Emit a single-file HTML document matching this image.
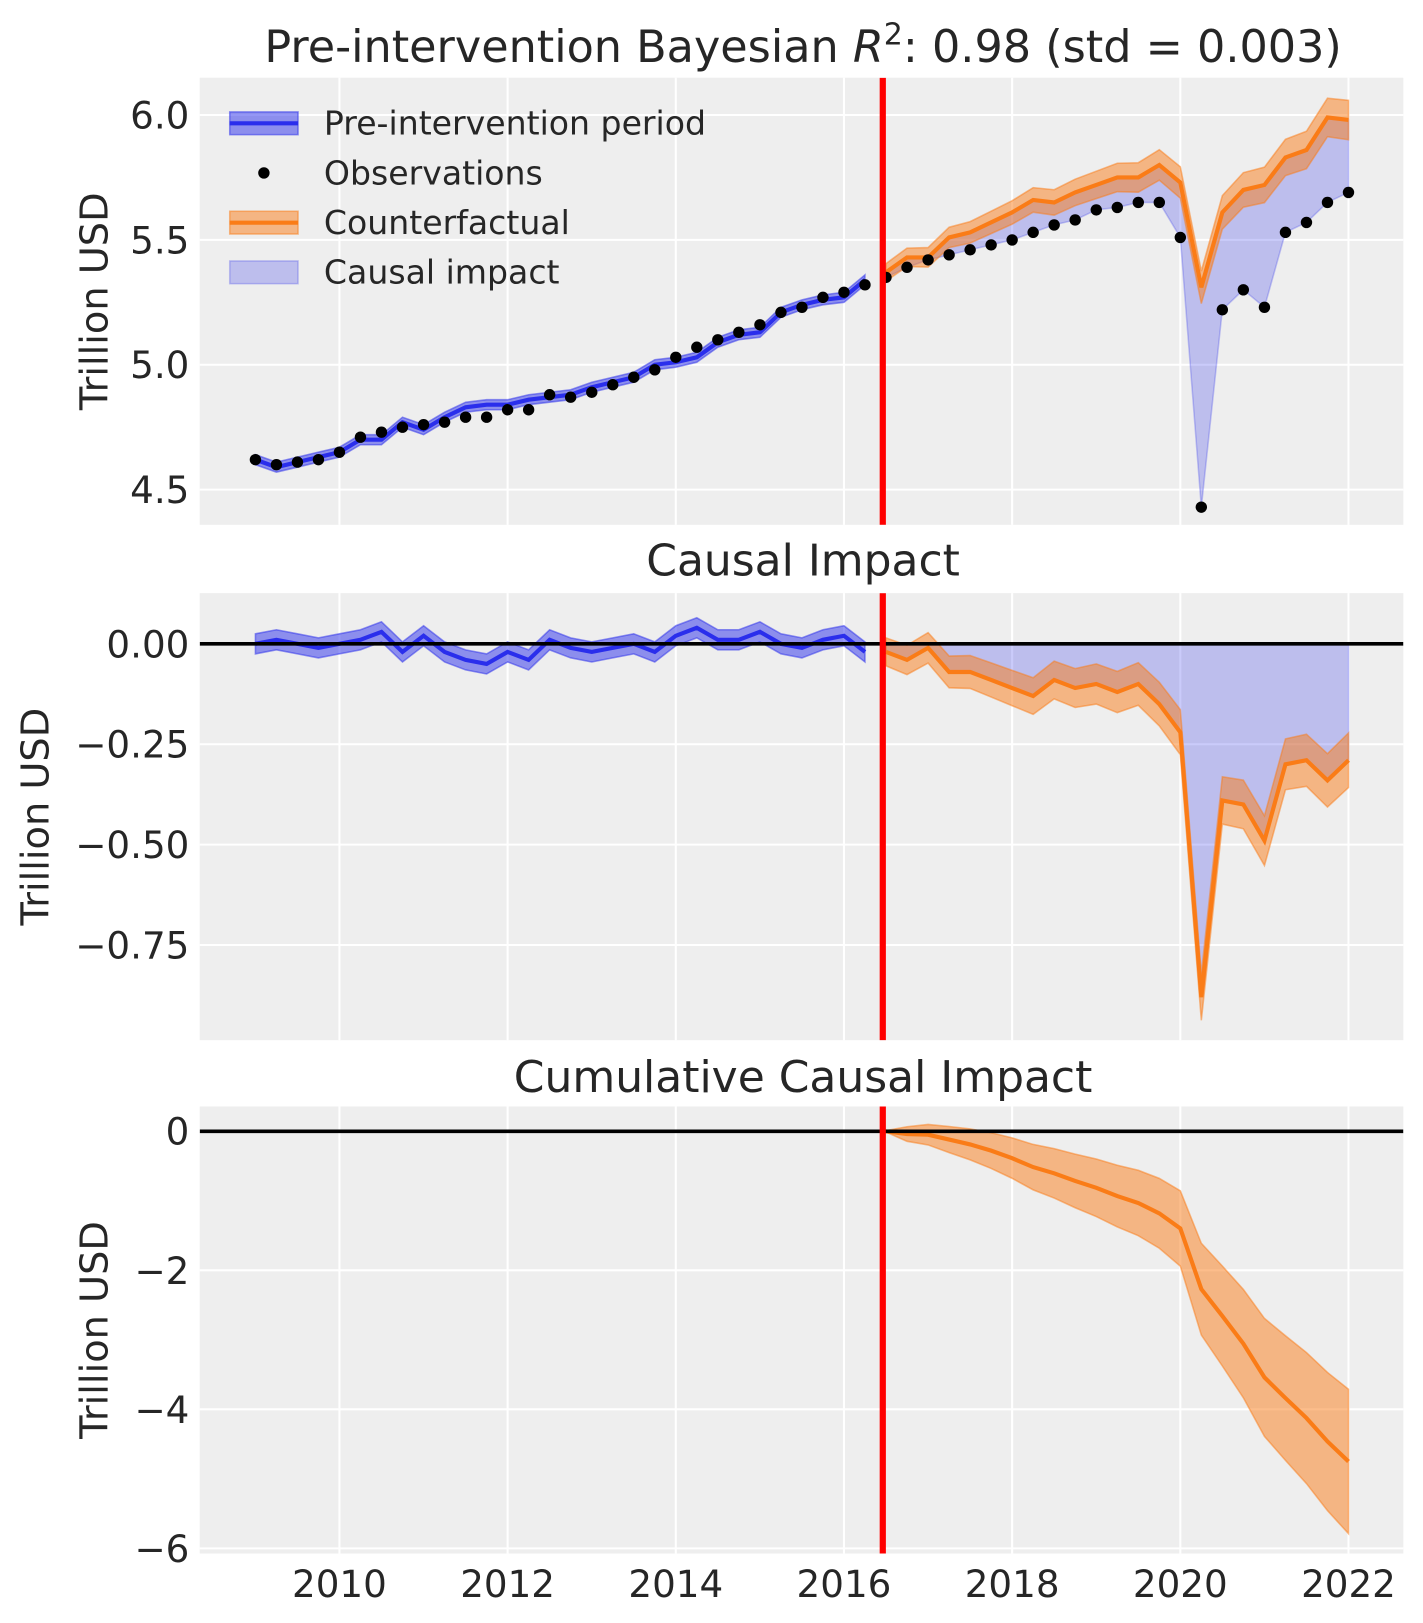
<!DOCTYPE html>
<html><head><meta charset="utf-8"><style>
html,body{margin:0;padding:0;background:#fff;}
svg{display:block;}
text{font-family:"DejaVu Sans","Liberation Sans",sans-serif;fill:#262626;}
</style></head><body>
<svg id="s" xmlns="http://www.w3.org/2000/svg" width="1423" height="1623" viewBox="0 0 1375 1568"></svg>
<script>
const S=document.getElementById('s');
let h='';
const X0=193,X1=1356;
const xd=t=>328+(t-2010)*81.25;
const obs=[4.62,4.60,4.61,4.62,4.65,4.71,4.73,4.75,4.76,4.77,4.79,4.79,4.82,4.82,4.88,4.87,4.89,4.92,4.95,4.98,5.03,5.07,5.10,5.13,5.16,5.21,5.23,5.27,5.29,5.32,5.35,5.39,5.42,5.44,5.46,5.48,5.50,5.53,5.56,5.58,5.62,5.63,5.65,5.65,5.51,4.43,5.22,5.30,5.23,5.53,5.57,5.65,5.69];
const imp=[0.00,0.01,0.00,-0.01,0.00,0.01,0.03,-0.02,0.02,-0.02,-0.04,-0.05,-0.02,-0.04,0.01,-0.01,-0.02,-0.01,0.00,-0.02,0.02,0.04,0.01,0.01,0.03,0.00,-0.01,0.01,0.02,-0.02,
-0.02,-0.04,-0.01,-0.07,-0.07,-0.09,-0.11,-0.13,-0.09,-0.11,-0.10,-0.12,-0.10,-0.15,-0.22,-0.88,-0.39,-0.40,-0.49,-0.30,-0.29,-0.34,-0.29];
const N=obs.length, P=30;
const tx=i=>xd(2009+i*0.25);
const fit=obs.map((o,i)=>o-imp[i]);
function line(xs,ys){return xs.map((x,i)=>(i?'L':'M')+x.toFixed(1)+','+ys[i].toFixed(1)).join('');}
function band(idx,lo,hi,fy){const a=idx.map(i=>[tx(i),fy(hi(i))]),b=idx.map(i=>[tx(i),fy(lo(i))]).reverse();return 'M'+a.concat(b).map(p=>p[0].toFixed(1)+','+p[1].toFixed(1)).join('L')+'Z';}
const BL='#2a2eec',OR='#fa7c17';
const LW=4;
const pre=[...Array(P).keys()], post=[...Array(N-P).keys()].map(i=>i+P);
function axes(y0,y1,ticks,fy,labs){
  h+=`<rect x="${X0}" y="${y0}" width="${X1-X0}" height="${y1-y0}" fill="#eeeeee"/>`;
  for(let t=2010;t<=2022;t+=2)h+=`<line x1="${xd(t)}" x2="${xd(t)}" y1="${y0}" y2="${y1}" stroke="#fff" stroke-width="2"/>`;
  ticks.forEach((v,k)=>{const y=fy(v);h+=`<line x1="${X0}" x2="${X1}" y1="${y}" y2="${y}" stroke="#fff" stroke-width="2"/><text x="183" y="${y+13}" font-size="36" text-anchor="end">${labs[k]}</text>`;});
}
function clip(id,y0,y1){h+=`<clipPath id="${id}"><rect x="${X0}" y="${y0}" width="${X1-X0}" height="${y1-y0}"/></clipPath>`;}
// ---------- top
const fy1=v=>111+(6.0-v)*241.33;
axes(75,507,[6.0,5.5,5.0,4.5],fy1,['6.0','5.5','5.0','4.5']);
clip('c1',75,507);
h+='<g clip-path="url(#c1)">';
const w1=i=>0.02+0.002*Math.max(0,i-P)+(i>=P?0.015:0);
h+=`<path d="${band(pre,i=>fit[i]-w1(i),i=>fit[i]+w1(i),fy1)}" fill="${BL}" fill-opacity="0.5" stroke="${BL}" stroke-opacity="0.5" stroke-width="1.5"/>`;
h+=`<path d="${line(pre.map(tx),pre.map(i=>fy1(fit[i])))}" fill="none" stroke="${BL}" stroke-width="${LW}"/>`;
h+=`<path d="${band(post,i=>obs[i],i=>fit[i],fy1)}" fill="${BL}" fill-opacity="0.25" stroke="${BL}" stroke-opacity="0.25" stroke-width="1.5"/>`;
h+=`<path d="${band(post,i=>fit[i]-w1(i),i=>fit[i]+w1(i),fy1)}" fill="${OR}" fill-opacity="0.5" stroke="${OR}" stroke-opacity="0.5" stroke-width="1.5"/>`;
h+=`<path d="${line(post.map(tx),post.map(i=>fy1(fit[i])))}" fill="none" stroke="${OR}" stroke-width="${LW}"/>`;
obs.forEach((o,i)=>{h+=`<circle cx="${tx(i).toFixed(1)}" cy="${fy1(o).toFixed(1)}" r="5.5" fill="#000"/>`;});
h+=`<line x1="853" x2="853" y1="75" y2="507" stroke="#f00" stroke-width="6"/></g>`;
h+=`<text x="776" y="60" font-size="43" text-anchor="middle">Pre-intervention Bayesian <tspan font-style="italic">R</tspan><tspan font-size="29" dy="-17">2</tspan><tspan dy="17">: 0.98 (std = 0.003)</tspan></text>`;
h+=`<text transform="translate(104,291) rotate(-90)" font-size="37" text-anchor="middle">Trillion USD</text>`;
// legend
const lg=[[119,'Pre-intervention period',BL,1],[167,'Observations',null,0],[215,'Counterfactual',OR,1],[263,'Causal impact',BL,2]];
lg.forEach(([y,t,c,k])=>{
 if(k==1){h+=`<rect x="222" y="${y-11}" width="66" height="22" fill="${c}" fill-opacity="0.5" stroke="${c}" stroke-opacity="0.5" stroke-width="1.5"/><line x1="222" x2="288" y1="${y}" y2="${y}" stroke="${c}" stroke-width="${LW}"/>`;}
 else if(k==2){h+=`<rect x="222" y="${y-11}" width="66" height="22" fill="${c}" fill-opacity="0.25" stroke="${c}" stroke-opacity="0.25" stroke-width="1.5"/>`;}
 else h+=`<circle cx="255" cy="${y}" r="5.5" fill="#000"/>`;
 h+=`<text x="313" y="${y+11}" font-size="32">${t}</text>`;
});
// ---------- middle
const fy2=v=>622-v*388;
axes(573,1005,[0,-0.25,-0.5,-0.75],fy2,['0.00','\u22120.25','\u22120.50','\u22120.75']);
clip('c2',573,1005);
h+='<g clip-path="url(#c2)">';
const w2=i=>i<P?0.025:0.035+0.0015*(i-P);
h+=`<path d="${band(pre,i=>imp[i]-w2(i),i=>imp[i]+w2(i),fy2)}" fill="${BL}" fill-opacity="0.5" stroke="${BL}" stroke-opacity="0.5" stroke-width="1.5"/>`;
h+=`<path d="${line(pre.map(tx),pre.map(i=>fy2(imp[i])))}" fill="none" stroke="${BL}" stroke-width="${LW}"/>`;
h+=`<path d="${band(post,i=>imp[i],i=>0,fy2)}" fill="${BL}" fill-opacity="0.25" stroke="${BL}" stroke-opacity="0.25" stroke-width="1.5"/>`;
h+=`<path d="${band(post,i=>imp[i]-w2(i),i=>imp[i]+w2(i),fy2)}" fill="${OR}" fill-opacity="0.5" stroke="${OR}" stroke-opacity="0.5" stroke-width="1.5"/>`;
h+=`<path d="${line(post.map(tx),post.map(i=>fy2(imp[i])))}" fill="none" stroke="${OR}" stroke-width="${LW}"/>`;
h+=`<line x1="${X0}" x2="${X1}" y1="622" y2="622" stroke="#000" stroke-width="3.5"/>`;
h+=`<line x1="853" x2="853" y1="573" y2="1005" stroke="#f00" stroke-width="6"/></g>`;
h+=`<text x="776" y="556" font-size="42.5" text-anchor="middle">Causal Impact</text>`;
h+=`<text transform="translate(47,789) rotate(-90)" font-size="37" text-anchor="middle">Trillion USD</text>`;
// ---------- bottom
const fy3=v=>1093-v*67.17;
axes(1069,1501,[0,-2,-4,-6],fy3,['0','\u22122','\u22124','\u22126']);
clip('c3',1069,1501);
h+='<g clip-path="url(#c3)">';
const cum=[];let s=0;post.forEach((i,k)=>{if(k>0)s+=imp[i];cum[i]=s;});
const sc=-4.75/s; post.forEach(i=>cum[i]*=sc);
const w3=i=>{const k=i-P;return k==0?0.01:0.1*Math.sqrt(k)+0.12*Math.abs(cum[i]);};
h+=`<path d="${band(post,i=>cum[i]-w3(i),i=>cum[i]+w3(i),fy3)}" fill="${OR}" fill-opacity="0.5" stroke="${OR}" stroke-opacity="0.5" stroke-width="1.5"/>`;
h+=`<path d="${line(post.map(tx),post.map(i=>fy3(cum[i])))}" fill="none" stroke="${OR}" stroke-width="${LW}"/>`;
h+=`<line x1="${X0}" x2="${X1}" y1="1093" y2="1093" stroke="#000" stroke-width="3.5"/>`;
h+=`<line x1="853" x2="853" y1="1069" y2="1501" stroke="#f00" stroke-width="6"/></g>`;
h+=`<text x="776" y="1055" font-size="42.5" text-anchor="middle">Cumulative Causal Impact</text>`;
h+=`<text transform="translate(104,1285) rotate(-90)" font-size="37" text-anchor="middle">Trillion USD</text>`;
for(let t=2010;t<=2022;t+=2)h+=`<text x="${xd(t)}" y="1543" font-size="36" text-anchor="middle">${t}</text>`;
S.innerHTML=h;
</script>
</body></html>
